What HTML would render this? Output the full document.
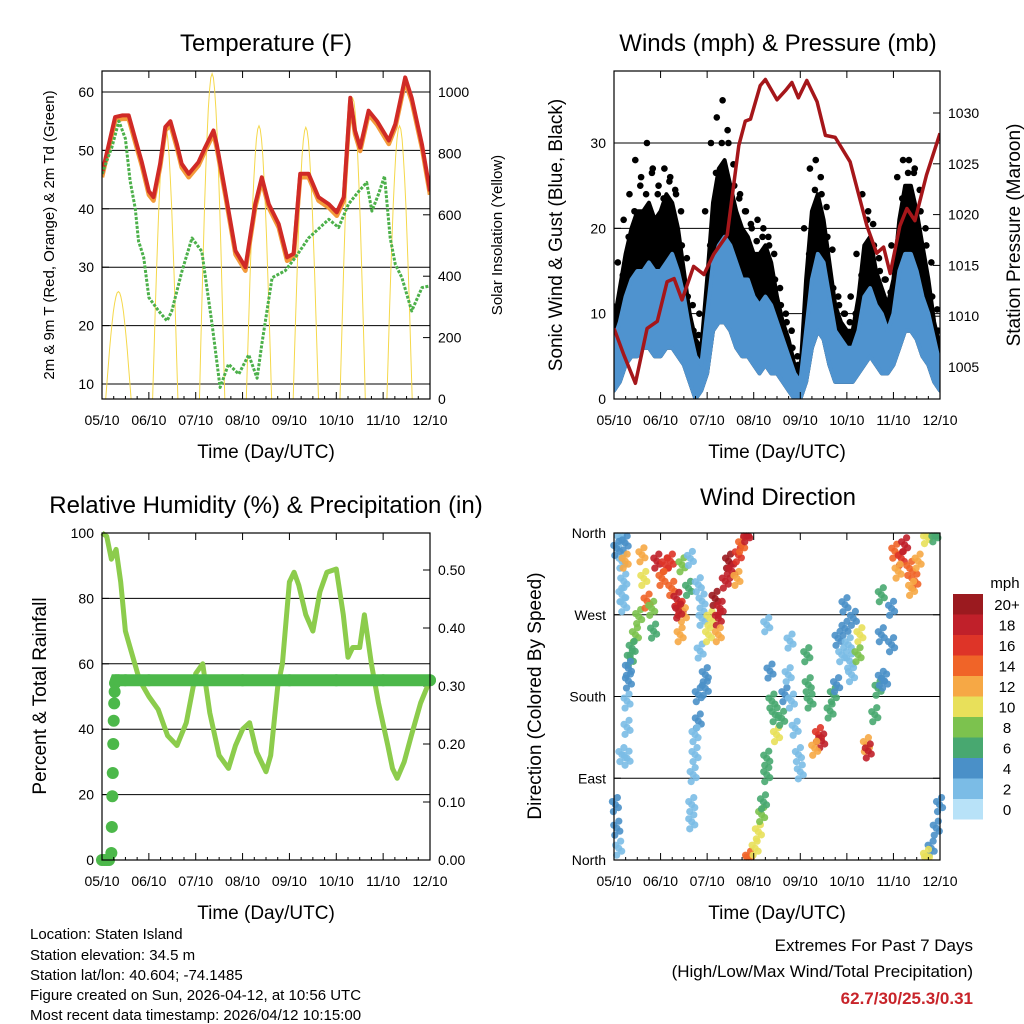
<!DOCTYPE html>
<html><head><meta charset="utf-8"><style>
body{margin:0;background:#fff}
svg{display:block;font-family:"Liberation Sans",sans-serif}
</style></head><body>
<svg id="s" width="1024" height="1024" viewBox="0 0 1024 1024" xmlns="http://www.w3.org/2000/svg">
<g id="g"></g>
<text x="30" y="939" font-size="15">Location: Staten Island</text>
<text x="30" y="960" font-size="15">Station elevation: 34.5 m</text>
<text x="30" y="980" font-size="15">Station lat/lon: 40.604; -74.1485</text>
<text x="30" y="1000" font-size="15">Figure created on Sun, 2026-04-12, at 10:56 UTC</text>
<text x="30" y="1020" font-size="15">Most recent data timestamp: 2026/04/12 10:15:00</text>
<text x="973" y="951" font-size="17" text-anchor="end">Extremes For Past 7 Days</text>
<text x="973" y="977" font-size="17" text-anchor="end">(High/Low/Max Wind/Total Precipitation)</text>
<text x="973" y="1004" font-size="17" font-weight="bold" fill="#c8242a" text-anchor="end">62.7/30/25.3/0.31</text>
</svg>
<script>
// ---- data ----
const dayLabels=["05/10","06/10","07/10","08/10","09/10","10/10","11/10","12/10"];
const tempT=[0,0.28,0.43,0.57,0.68,0.78,0.85,1.0,1.1,1.24,1.35,1.46,1.6,1.7,1.85,2.06,2.2,2.38,2.45,2.63,2.85,3.06,3.27,3.41,3.56,3.77,3.95,4.09,4.23,4.41,4.62,4.84,5.01,5.16,5.3,5.4,5.51,5.69,5.87,6.12,6.26,6.47,6.61,6.83,7.0];
const tempV=[46,55.7,56,56,52.8,50,48,43,42,47.7,54,55,51,47.7,46,48,50.5,53.4,51,43,32.8,30,40.8,45.4,40.8,37.4,31.7,32.3,46,46,42,40.8,39.4,42,59,53.4,50.5,56.8,55,51.7,54.5,62.5,59,51,43];
const dewT=[0,0.21,0.36,0.5,0.6,0.71,0.78,0.89,1.0,1.21,1.39,1.49,1.71,1.92,2.13,2.35,2.52,2.7,2.92,3.13,3.31,3.41,3.63,3.91,4.13,4.41,4.84,5.05,5.26,5.48,5.65,5.76,5.9,6.03,6.15,6.26,6.4,6.61,6.83,7.0];
const dewV=[46,50.5,55,52,44.8,40,34.5,31.7,24.8,22.5,20.8,22.5,29.4,35,32.7,20.2,9.4,13.4,11.7,15,11,16.8,28.2,29.4,31.7,35,38.2,36.8,40.8,43,44.5,39.6,42.5,45.6,35,30.5,28.2,22.5,26.5,26.8];
const solarPeak=[350,890,1060,890,885,980,890];
const windT=[];for(let i=0;i<=56;i++)windT.push(i/8);
const gustV=[11,16,21,24,28,26,30,27,25,27,26,24,18,12,8,10,22,30,33,35,30,25,24,22,20,21,20,18,14,11,9,6,4,20,27,28,24,19,13,11,10,12,17,24,22,18,15,14,18,26,28,28,27,22,18,12,8];
const gustMid=[9,13,17,20,22,22,23,21,22,24,23,20,15,10,7,6,14,23,27,28,25,22,20,19,17,17,18,16,12,9,7,4,3,14,22,24,21,16,11,9,8,8,12,18,19,15,13,11,14,21,25,25,22,18,14,9,6];
const windHi=[7,9,12,14,15,15,16,15,15,16,17,15,12,8,5,4,10,16,18,19,18,16,14,14,12,11,12,11,9,7,5,3,2,8,14,17,16,12,8,7,6,6,8,12,13,11,10,8,10,15,17,17,15,12,10,7,4];
const windLo=[1,2,4,5,5,6,6,5,5,6,6,5,4,2,0,1,3,8,9,9,8,6,5,5,4,3,4,3,3,2,1,0,0,2,6,8,7,4,2,2,2,2,3,4,5,4,3,3,4,6,8,8,7,5,4,2,1];
const presT=[0,0.21,0.46,0.71,0.93,1.14,1.29,1.46,1.71,1.93,2.14,2.43,2.68,2.82,2.93,3.14,3.25,3.5,3.68,3.82,3.96,4.14,4.36,4.54,4.75,5.07,5.43,5.64,5.79,5.93,6.14,6.29,6.46,6.71,7.0];
const presV=[1008.8,1006.2,1003.4,1008.8,1009.5,1013.4,1013.7,1011.6,1014.9,1014.1,1016.1,1018,1026.8,1029.2,1029.4,1032.7,1033.3,1031.3,1032.2,1033,1031.5,1033.2,1031.1,1027.8,1027.6,1025.2,1018.9,1016.2,1016.8,1014.2,1018.9,1020.6,1019.4,1023.9,1028];
const rhT=[0,0.1,0.2,0.3,0.4,0.5,0.6,0.8,1.0,1.2,1.4,1.6,1.8,2.0,2.15,2.3,2.5,2.7,2.85,3.0,3.15,3.3,3.5,3.6,3.75,3.85,4.0,4.1,4.2,4.35,4.5,4.65,4.8,5.0,5.15,5.25,5.35,5.5,5.6,5.75,5.9,6.1,6.2,6.3,6.45,6.6,6.8,7.0];
const rhV=[100,99,92,95,85,70,65,55,50,46,38,35,42,57,60,45,32,28,35,40,42,33,27,32,53,60,85,88,84,75,70,82,88,89,75,62,65,65,75,60,48,35,28,25,30,38,48,55];
const precT=[0,0.05,0.1,0.15,0.2,0.21,0.22,0.23,0.24,0.25,0.26,0.27,0.28,0.3,0.35,0.5,1,2,3,4,5,6,7];
const precV=[0,0,0,0,0.012,0.057,0.11,0.15,0.2,0.24,0.27,0.29,0.305,0.31,0.31,0.31,0.31,0.31,0.31,0.31,0.31,0.31,0.31];
const dirT=[0.14,0.17,0.21,0.17,0.21,0.06,0.24,0.53,0.46,0.39,0.35,0.31,0.31,0.28,0.28,0.28,0.17,0.03,0.06,0.1,0.24,0.6,0.64,0.71,0.81,0.85,0.92,1.1,1.21,1.03,1.24,1.35,1.42,1.49,1.39,1.42,1.46,1.64,1.6,1.81,1.89,1.89,1.85,1.96,1.96,1.81,1.81,1.74,1.74,1.7,1.67,1.67,2.03,2.06,2.17,2.28,2.24,2.24,2.39,2.46,2.53,2.67,2.74,2.85,2.64,2.89,3.03,3.1,3.17,3.21,3.28,3.28,3.28,3.35,3.39,3.46,3.49,3.6,3.67,3.78,3.74,3.81,3.89,3.96,4.0,4.14,4.17,4.21,4.39,4.46,4.31,4.64,4.71,4.78,4.81,4.89,4.96,5.06,5.1,5.03,4.96,5.14,5.28,5.24,5.42,5.46,5.67,5.6,5.74,5.81,5.74,5.96,5.74,5.96,6.03,6.17,6.24,6.35,6.46,6.53,6.39,6.1,6.71,6.89,6.99,6.92,6.81,6.71];
const dirV=[354,329,307,292,281,343,349,268,248,233,222,211,197,175,146,112,116,61,35,13,329,336,310,285,277,252,329,325,329,310,299,287,277,270,274,248,325,332,299,303,285,266,230,204,189,182,153,138,116,94,61,42,248,266,288,277,266,248,307,329,318,336,347,358,310,2,13,31,50,64,94,112,259,208,175,160,138,156,182,241,204,175,145,116,97,226,193,175,138,131,123,164,182,193,244,226,255,219,204,237,281,266,248,226,127,120,189,160,200,197,292,277,248,237,340,332,347,321,307,329,299,318,356,358,61,35,13,4];
const dirS=[2,2,2,2,3,4,4,9,8,7,6,5,4,3,3,2,2,4,4,3,12,13,10,15,9,6,19,16,17,15,14,19,16,12,18,13,8,2,6,3,3,3,2,4,4,4,4,3,3,2,2,3,10,10,20,19,18,12,18,20,19,17,15,18,12,14,10,10,8,7,6,6,2,4,7,7,10,6,5,2,2,3,2,2,2,6,7,6,17,19,13,7,6,5,4,3,4,3,3,2,4,4,10,8,13,18,7,6,5,4,6,5,4,4,14,17,19,15,14,13,13,12,10,7,4,4,5,11];
const barLabels=["20+","18","16","14","12","10","8","6","4","2","0"];
const barColors=["#9b1a1f","#c0202a","#de3428","#f06428","#f6a845","#e8e05a","#7cc24e","#48a870","#4a90c8","#7bbce6","#b8e2f8"];
// ---- helpers ----
const NS="http://www.w3.org/2000/svg",G=document.getElementById('g');
function el(t,a,p){const e=document.createElementNS(NS,t);for(const k in a)e.setAttribute(k,a[k]);(p||G).appendChild(e);return e;}
function txt(x,y,s,size,o,p){const e=el('text',Object.assign({x:x,y:y,'font-size':size,'text-anchor':'middle'},o||{}),p);e.textContent=s;return e;}
function lin(d0,d1,r0,r1){return v=>r0+(v-d0)/(d1-d0)*(r1-r0);}
function pts(T,V,X,Y){return T.map((t,i)=>X(t).toFixed(1)+","+Y(V[i]).toFixed(1)).join(" ");}
function frame(x0,x1,y0,y1,X,name){
  const g=el('g',{});
  
  
  dayLabels.forEach((l,i)=>{const x=X(i);el('line',{x1:x,x2:x,y1:y1,y2:y1-7,stroke:'#000'},g);el('line',{x1:x,x2:x,y1:y0,y2:y0+7,stroke:'#000'},g);
    const t=txt(x,y1+26,l,14,{},g);});
  for(let d=0;d<7;d++)for(let k=1;k<4;k++){const x=X(d+k/4);el('line',{x1:x,x2:x,y1:y1,y2:y1-3,stroke:'#000'},g);}
  const tt=txt((x0+x1)/2,y1+59,"Time (Day/UTC)",19,{},g);
  
  
}
function box(x0,x1,y0,y1,name){const r=el('rect',{x:x0,y:y0,width:x1-x0,height:y1-y0,fill:'none',stroke:'#000','stroke-width':1.2});
  }
function yticks(vals,Y,x,side,fmt,grid,x0,x1,name){
  vals.forEach(v=>{const y=Y(v);
    if(grid)el('line',{x1:x0,x2:x1,y1:y,y2:y,stroke:'#000','stroke-width':1});
    el('line',{x1:x,x2:x+(side<0?7:-7),y1:y,y2:y,stroke:'#000'});
    const t=txt(x+side*8,y+5,fmt(v),14,{'text-anchor':side<0?'end':'start'});
    });
}
function vtitle(x,y,s,size,name){const t=txt(x,y,s,size,{transform:`rotate(-90 ${x} ${y})`});}
function title(x,y,s,name){const t=txt(x,y,s,24);}
function clip(id,x0,x1,y0,y1){const c=el('clipPath',{id:id});el('rect',{x:x0,y:y0,width:x1-x0,height:y1-y0},c);}

// ---- Panel 1: temperature ----
(function(){
 const x0=102,x1=430,y0=71,y1=399;const X=lin(0,7,x0,x1),Y=lin(10,60,384,92),YS=lin(0,1000,399,92);
 clip('c1',x0,x1,y0,y1);
 title(266,51,"Temperature (F)","temperature-title");
 yticks([10,20,30,40,50,60],Y,x0,-1,v=>v,true,x0,x1,'temp-y');
 yticks([0,200,400,600,800,1000],YS,x1,1,v=>v,false,0,0,'solar-y');
 const gp=el('g',{'clip-path':'url(#c1)'});
 let sp=[];for(let d=0;d<7;d++){const pk=solarPeak[d];for(let k=0;k<=20;k++){const t=d+0.08+k*0.54/20;const v=pk*Math.sin(Math.PI*k/20);sp.push(X(t).toFixed(1)+","+YS(v).toFixed(1));}}
 const s=el('polyline',{points:sp.join(" "),fill:'none',stroke:'#f5d84a','stroke-width':1},gp);
 
 const o=el('polyline',{points:pts(tempT,tempV.map(v=>v-0.6),X,Y),fill:'none',stroke:'#f39a3a','stroke-width':4.5,'stroke-linejoin':'round'},gp);
 
 const r=el('polyline',{points:pts(tempT,tempV,X,Y),fill:'none',stroke:'#d02a26','stroke-width':4,'stroke-linejoin':'round'},gp);
 
 const g=el('polyline',{points:pts(dewT,dewV,X,Y),fill:'none',stroke:'#4cb04a','stroke-width':3,'stroke-dasharray':'3 1.5','stroke-linejoin':'round'},gp);
 
 box(x0,x1,y0,y1,'temp');frame(x0,x1,y0,y1,X,'temp');
 vtitle(54,235,"2m & 9m T (Red, Orange) & 2m Td (Green)",15,'temp-y-axis-title');
 vtitle(502,235,"Solar Insolation (Yellow)",15,'solar-y-axis-title');
})();
// ---- Panel 2: winds ----
(function(){
 const x0=614,x1=940,y0=71,y1=399;const X=lin(0,7,x0,x1),Y=lin(0,30,399,143),YP=lin(1005,1030,367,113);
 clip('c2',x0,x1,y0,y1);
 title(778,51,"Winds (mph) & Pressure (mb)","winds-title");
 yticks([0,10,20,30],Y,x0,-1,v=>v,true,x0,x1,'wind-y');
 yticks([1005,1010,1015,1020,1025,1030],YP,x1,1,v=>v,false,0,0,'pressure-y');
 const gp=el('g',{'clip-path':'url(#c2)'});
 const band=(hi,lo,fill,name,sw)=>{const p=pts(windT,hi,X,Y)+" "+pts(windT.slice().reverse(),lo.slice().reverse(),X,Y);
   const e=el('polygon',{points:p,fill:fill,stroke:fill,'stroke-width':sw,'stroke-linejoin':'round'},gp);};
 band(gustMid,windLo,'#000','gust-points',4);
 windT.forEach((t,i)=>{[gustV[i],(gustV[i]+gustMid[i])/2].forEach((v,k)=>{
   const c=el('circle',{cx:X(t)+(k?3:-2),cy:Y(v),r:3.3,fill:'#000'},gp);});});
 band(windHi,windLo,'#4f93cf','wind-points',4);
 const p=el('polyline',{points:pts(presT,presV,X,YP),fill:'none',stroke:'#a5161a','stroke-width':3.5,'stroke-linejoin':'round'},gp);
 
 box(x0,x1,y0,y1,'winds');frame(x0,x1,y0,y1,X,'winds');
 vtitle(562,235,"Sonic Wind & Gust (Blue, Black)",19,'wind-y-axis-title');
 vtitle(1020,235,"Station Pressure (Maroon)",19,'pressure-y-axis-title');
})();
// ---- Panel 3: RH ----
(function(){
 const x0=102,x1=430,y0=533,y1=860;const X=lin(0,7,x0,x1),Y=lin(0,100,860,533),YR=lin(0,0.5,860,570);
 title(266,513,"Relative Humidity (%) & Precipitation (in)","rh-title");
 yticks([0,20,40,60,80,100],Y,x0,-1,v=>v,false,0,0,'rh-y');
 [20,40,60,80].forEach(v=>el('line',{x1:x0,x2:x1,y1:Y(v),y2:Y(v),stroke:'#000'}));
 yticks([0,0.1,0.2,0.3,0.4,0.5],YR,x1,1,v=>v.toFixed(2),false,0,0,'precip-y');
 const r=el('polyline',{points:pts(rhT,rhV,X,Y),fill:'none',stroke:'#8ccc4c','stroke-width':5,'stroke-linejoin':'round'});
 
 const p=el('polyline',{points:pts(precT.slice(12),precV.slice(12),X,YR),fill:'none',stroke:'#4cb84a','stroke-width':12,'stroke-linecap':'round'});
 
 precT.forEach((t,i)=>{const c=el('circle',{cx:X(t),cy:YR(precV[i]),r:6,fill:'#4cb84a'});});
 box(x0,x1,y0,y1,'rh');frame(x0,x1,y0,y1,X,'rh');
 vtitle(46,696,"Percent & Total Rainfall",19,'rh-y-axis-title');
})();
// ---- Panel 4: wind direction ----
(function(){
 const x0=614,x1=940,y0=533,y1=860;const X=lin(0,7,x0,x1),Y=lin(0,360,860,533);
 title(778,505,"Wind Direction","direction-title");
 const names=["North","East","South","West","North"];
 names.forEach((n,i)=>{const y=Y(i*90);if(i>0&&i<4)el('line',{x1:x0,x2:x1,y1:y,y2:y,stroke:'#000'});
   el('line',{x1:x0,x2:x0+7,y1:y,y2:y,stroke:'#000'});el('line',{x1:x1,x2:x1-7,y1:y,y2:y,stroke:'#000'});
   const t=txt(x0-8,y+5,n,14,{'text-anchor':'end'});});
 const col=s=>barColors[10-Math.min(10,Math.floor(s/2))];
 const offs=[[0,0],[2,-7],[-2,7],[3,3],[-3,-3]];
 dirT.forEach((t,i)=>{
   offs.forEach(o=>{const c=el('circle',{cx:X(t)+o[0],cy:Math.max(y0+3,Math.min(y1-3,Y(dirV[i])+o[1])),r:3.6,fill:col(dirS[i]),'fill-opacity':0.9});
   });
 });
 box(x0,x1,y0,y1,'direction');frame(x0,x1,y0,y1,X,'direction');
 vtitle(541,696,"Direction (Colored By Speed)",19,'direction-y-axis-title');
 const m=txt(1005,588,"mph",15);
 barLabels.forEach((l,i)=>{const y=594+i*20.5;
   const r=el('rect',{x:953,y:y,width:30,height:20.5,fill:barColors[i]});
   const t=txt(1007,y+16,l,15);});
})();
</script>
</body></html>
